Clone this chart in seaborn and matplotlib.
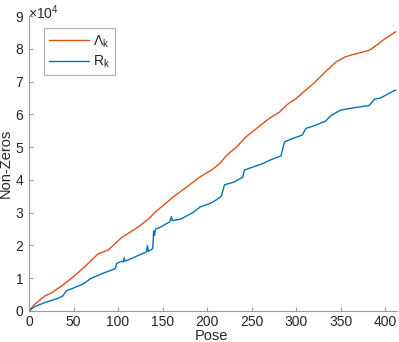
"""Non-zero count growth per pose, MATLAB-looking line chart."""
import matplotlib

matplotlib.use("Agg")

import matplotlib.pyplot as plt
import seaborn as sns
from matplotlib.legend_handler import HandlerLine2D

# orange series (Lambda_k), values in units of 1e4
pose_lambda = [0, 3, 7, 12, 18, 25, 37, 50, 63, 72, 78, 89, 104, 122, 136, 141,
               162, 178, 192, 205, 214, 222, 233, 244, 258, 270, 281, 290, 300,
               307, 320, 333, 345, 355, 363, 372, 382, 390, 397, 405, 412]
nnz_lambda = [0, 0.10, 0.22, 0.33, 0.46, 0.55, 0.77, 1.05, 1.36, 1.60, 1.75, 1.86,
              2.24, 2.55, 2.85, 3.00, 3.48, 3.80, 4.09, 4.30, 4.49, 4.75, 5.00,
              5.32, 5.62, 5.88, 6.06, 6.30, 6.48, 6.65, 6.95, 7.30, 7.60, 7.75,
              7.82, 7.88, 7.95, 8.10, 8.25, 8.40, 8.52]

# blue series (R_k), values in units of 1e4
pose_r = [0, 3, 7, 18, 33, 38, 42, 50, 61, 70, 81, 94, 97, 98.5, 104, 106, 107,
          108, 115, 130, 132, 133, 134, 139, 140, 141, 142, 147, 158, 160, 161,
          170, 184, 192, 205, 212, 216, 219.6, 230, 240, 242, 250, 262, 272, 283,
          287, 295, 307, 311, 320, 333, 339, 350, 365, 382, 388, 395, 403, 410, 412]
nnz_r = [0, 0.07, 0.14, 0.26, 0.39, 0.46, 0.62, 0.70, 0.83, 1.00, 1.13, 1.26, 1.30,
         1.45, 1.52, 1.50, 1.62, 1.52, 1.60, 1.78, 1.80, 2.00, 1.82, 1.90, 2.44,
         2.30, 2.50, 2.55, 2.72, 2.88, 2.76, 2.80, 3.00, 3.17, 3.30, 3.42, 3.50,
         3.85, 3.93, 4.08, 4.30, 4.38, 4.49, 4.62, 4.73, 5.16, 5.25, 5.37, 5.57,
         5.65, 5.79, 5.96, 6.13, 6.20, 6.27, 6.46, 6.50, 6.62, 6.72, 6.74]

ORANGE = "#D95319"
BLUE = "#0072BD"
AXIS_GREY = "#9a9a9a"
TEXT_GREY = "#262626"


class _ShortLine(HandlerLine2D):
    # MATLAB legends draw a short line with a gap on its left
    def create_artists(self, legend, orig_handle, xdescent, ydescent,
                       width, height, fontsize, trans):
        artists = super().create_artists(legend, orig_handle, xdescent, ydescent,
                                         width, height, fontsize, trans)
        for a in artists:
            x = list(a.get_xdata())
            if len(x) == 2:
                a.set_xdata([x[0] + 0.58 * (x[1] - x[0]), x[1]])
        return artists


sns.set_theme(style="white")
plt.rcParams["font.family"] = ["Liberation Sans", "DejaVu Sans"]
plt.rcParams["mathtext.default"] = "regular"

fig = plt.figure(figsize=(3.99, 3.42), dpi=100)
ax = fig.add_axes([29 / 399, 1 - 311 / 342, 367.7 / 399, 295 / 342])

sns.lineplot(x=pose_lambda, y=[v * 1e4 for v in nnz_lambda], color=ORANGE,
             lw=1.0, estimator=None, label="Λ$_k$", ax=ax)
sns.lineplot(x=pose_r, y=[v * 1e4 for v in nnz_r], color=BLUE,
             lw=1.0, estimator=None, label="R$_k$", ax=ax)

ax.set_xlim(0, 413)
ax.set_ylim(0, 9e4)
ax.set_xticks(range(0, 401, 50))
ax.set_yticks([i * 1e4 for i in range(10)])
ax.set_yticklabels([str(i) for i in range(10)])

for side in ("top", "right"):
    ax.spines[side].set_visible(False)
for side in ("left", "bottom"):
    ax.spines[side].set_color(AXIS_GREY)
    ax.spines[side].set_linewidth(0.8)

ax.tick_params(direction="in", length=2.8, width=0.8, color=AXIS_GREY,
               labelcolor=TEXT_GREY, labelsize=10, pad=4,
               bottom=True, left=True, top=False, right=False)
ax.tick_params(axis="x", pad=3)

ax.set_xlabel("Pose", fontsize=10.5, color=TEXT_GREY)
ax.set_ylabel("Non-Zeros", fontsize=10.5, color=TEXT_GREY)
ax.xaxis.set_label_coords(0.495, -0.061)
ax.yaxis.set_label_coords(-0.045, 0.5)

fig.text(28 / 399, 1 - 19 / 342, r"$\times10^{4}$", fontsize=10,
         color=TEXT_GREY, ha="left", va="baseline")

leg = ax.legend(loc="upper left", bbox_to_anchor=(0.041, 0.958),
                borderaxespad=0, fancybox=False, fontsize=10,
                handlelength=2.9, handletextpad=0.25, borderpad=0.35,
                labelspacing=0.3, handler_map={plt.Line2D: _ShortLine()})
leg.get_frame().set_edgecolor(AXIS_GREY)
leg.get_frame().set_linewidth(0.8)
for t in leg.get_texts():
    t.set_color(TEXT_GREY)

fig.savefig("out.png", dpi=100)
plt.close(fig)
